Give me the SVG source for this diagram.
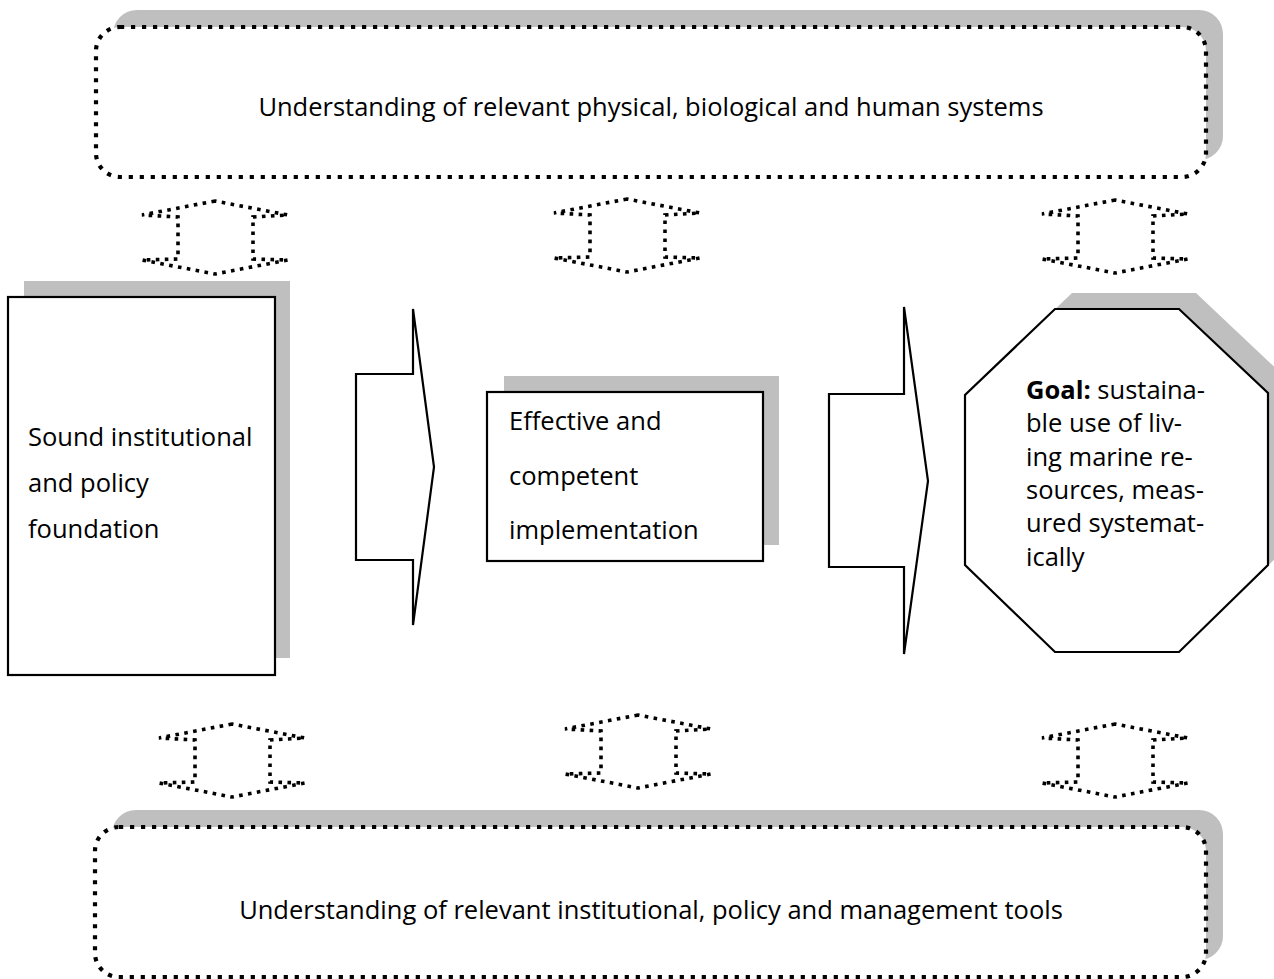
<svg xmlns="http://www.w3.org/2000/svg" width="1274" height="979" viewBox="0 0 1274 979">
<defs>
<style>
.txt{font-family:"Open Sans","Liberation Sans",sans-serif;font-size:25.5px;fill:#000}
.shadow{fill:#bfbfbf;stroke:none}
.solid{fill:#fff;stroke:#000;stroke-width:2.2;stroke-linejoin:miter}
.dotbox{fill:#fff;stroke:#000;stroke-width:4.2;stroke-dasharray:4.2 6.8}
.dotarrow{fill:none;stroke:#000;stroke-width:3.6;stroke-dasharray:3.6 5.4;stroke-linejoin:miter}
</style>
<path id="ud" d="M0,0 L-73,14 L-37,16 L-37,58 L-73,59 L0,73 L73,59 L38,58 L38,16 L73,14 Z"/>
</defs>
<rect width="1274" height="979" fill="#fff"/>

<g id="top-box">
<rect class="shadow" x="113" y="10" width="1110" height="150" rx="24" stroke="#e6e6e6" stroke-width="1"/>
<rect class="dotbox" x="96" y="27" width="1110" height="150" rx="24"/>
<text class="txt" x="651" y="116" text-anchor="middle">Understanding of relevant physical, biological and human systems</text>
</g>

<g id="bottom-box">
<rect class="shadow" x="112" y="810" width="1111" height="150" rx="24"/>
<rect class="dotbox" x="95" y="827" width="1111" height="150" rx="24"/>
<text class="txt" x="651" y="919" text-anchor="middle">Understanding of relevant institutional, policy and management tools</text>
</g>

<g id="foundation">
<rect class="shadow" x="24" y="281" width="266" height="377"/>
<rect class="solid" x="8" y="297" width="267" height="378"/>
<text class="txt" x="28" y="446">Sound institutional</text>
<text class="txt" x="28" y="492">and policy</text>
<text class="txt" x="28" y="538">foundation</text>
</g>

<g id="implementation">
<rect class="shadow" x="504" y="376" width="275" height="169"/>
<rect class="solid" x="487" y="392" width="276" height="169"/>
<text class="txt" x="509" y="430">Effective and</text>
<text class="txt" x="509" y="485">competent</text>
<text class="txt" x="509" y="539">implementation</text>
</g>

<g id="goal">
<polygon class="shadow" points="1072,293 1196,293 1285,377 1285,549 1196,636 1072,636 982,549 982,379"/>
<polygon class="solid" points="1055,309 1179,309 1268,393 1268,565 1179,652 1055,652 965,565 965,395"/>
<text class="txt" x="1026" y="399"><tspan font-weight="bold">Goal:</tspan> sustaina-</text>
<text class="txt" x="1026" y="432">ble use of liv-</text>
<text class="txt" x="1026" y="466">ing marine re-</text>
<text class="txt" x="1026" y="499">sources, meas-</text>
<text class="txt" x="1026" y="532">ured systemat-</text>
<text class="txt" x="1026" y="566">ically</text>
</g>

<g id="connectors">
<polygon class="solid" points="356,374 413,374 413,309 434,467 413,625 413,560 356,560"/>
<polygon class="solid" points="829,394 904,394 904,307 928,481 904,654 904,567 829,567"/>
<use href="#ud" class="dotarrow" x="215" y="201"/>
<use href="#ud" class="dotarrow" x="627" y="199"/>
<use href="#ud" class="dotarrow" x="1115" y="200"/>
<use href="#ud" class="dotarrow" x="232" y="724"/>
<use href="#ud" class="dotarrow" x="638" y="715"/>
<use href="#ud" class="dotarrow" x="1115" y="724"/>
</g>
</svg>
